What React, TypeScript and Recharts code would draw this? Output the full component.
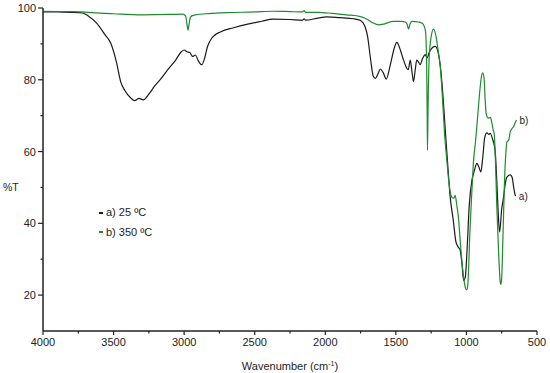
import { LineChart, Line, XAxis, YAxis } from "recharts";

// a) 25 ºC
const roomWavenumbers = [
  4000, 3900, 3800, 3720, 3680, 3620, 3560, 3520, 3480, 3450, 3420, 3380, 3350, 3320, 3290, 3250, 3210, 3160,
  3120, 3060, 3020, 3000, 2980, 2960, 2940, 2920, 2900, 2875, 2855, 2835, 2800, 2740, 2650, 2550, 2450, 2370,
  2250, 2160, 2150, 2140, 2050, 1990, 1900, 1800, 1750, 1720, 1700, 1680, 1660, 1645, 1625, 1610, 1590, 1568,
  1540, 1510, 1493, 1470, 1450, 1434, 1412, 1398, 1385, 1375, 1362, 1352, 1340, 1328, 1310, 1292, 1278, 1265,
  1240, 1221, 1200, 1180, 1160, 1150, 1130, 1115, 1093, 1075, 1060, 1044, 1030, 1020, 1008, 995, 980, 961, 945,
  926, 910, 898, 885, 870, 855, 840, 832, 815, 797, 785, 775, 765, 750, 737, 725, 713, 690, 677, 665, 654, 650,
];
const roomTransmittance = [
  98.9, 98.9, 98.8, 98.6, 97.8, 95.8, 92.5, 90.2, 85, 79.5, 77, 75, 74.2, 74.8, 74.4, 76, 78.2, 80.5,
  82.6, 85.5, 87.8, 88.3, 87.8, 87.6, 86.5, 86.9, 85.3, 84.2, 86, 89.2, 91.8, 93.4, 94.5, 95.5, 96.3, 96.9,
  96.8, 96.6, 97, 96.6, 97.2, 97.5, 97.3, 97, 96.5, 95, 92, 86, 81, 80.4, 81.8, 83, 82, 80.2,
  84, 89, 90.4, 88.5, 86, 84.2, 82.8, 85.5, 82, 79.5, 83, 85.5, 85, 84.2, 86, 87, 86.1, 87.5,
  89, 89.3, 87.5, 82, 72, 66, 55, 47.3, 40.8, 35, 33.5, 32.5, 28, 24.1, 25, 33, 45, 52, 54.5,
  56.7, 55.5, 54.3, 58, 64, 65.2, 64.8, 65.1, 63.5, 60.4, 52, 43, 37.6, 44, 47.3, 51, 52.9, 53.5, 52.9, 50, 47.8, 47.6,
];

// b) 350 ºC
const heatedWavenumbers = [
  4000, 3800, 3720, 3650, 3500, 3300, 3100, 3010, 2990, 2980, 2973, 2965, 2955, 2930, 2850, 2700, 2500, 2370,
  2250, 2160, 2150, 2140, 2050, 1950, 1850, 1750, 1700, 1660, 1620, 1580, 1517, 1460, 1434, 1420, 1410, 1400,
  1385, 1340, 1316, 1300, 1290, 1282, 1278, 1276, 1272, 1265, 1250, 1233, 1215, 1200, 1185, 1170, 1155, 1139,
  1120, 1104, 1090, 1080, 1068, 1057, 1040, 1020, 1005, 998, 990, 975, 960, 951, 935, 920, 905, 895, 885, 875,
  868, 860, 850, 840, 830, 820, 810, 803, 795, 785, 770, 760, 756, 750, 740, 730, 720, 713, 700, 690, 675, 666, 655, 645,
];
const heatedTransmittance = [
  99.1, 99, 98.9, 98.7, 98.4, 98.1, 98.2, 98.3, 97.8, 95.5, 93.8, 95.5, 97.5, 98, 98.4, 98.7, 98.9, 99.1,
  99, 98.9, 99.3, 98.8, 98.8, 98.5, 98.1, 97.6, 96.8, 95.8, 95.3, 95.6, 96.3, 96.3, 96.1, 95.5, 94.1, 95.5,
  96.3, 96.1, 95.8, 95, 93.5, 85, 70, 60.4, 72, 85, 92, 94.1, 92, 88, 83.7, 75, 65, 57.6,
  50, 47.3, 47, 47.8, 45, 41.8, 33, 25, 21.8, 21.5, 23, 38, 50, 56.7, 63, 70, 77, 80.5, 81.9, 80.5,
  75, 70.5, 69.5, 69.3, 69.5, 68, 66, 65, 58, 45, 30, 23.5, 23, 25, 38, 52, 60, 62.7, 63.2, 65.5, 66.5, 66.9, 68, 68.8,
];

const xTicks = [4000, 3750, 3500, 3250, 3000, 2750, 2500, 2250, 2000, 1750, 1500, 1250, 1000, 750, 500];
const yTicks = [20, 30, 40, 50, 60, 70, 80, 90, 100];

const seriesNames = ["a) 25 ºC", "b) 350 ºC"];
const endLabels = ["a)", "b)"];
const colors = ["#1a1a1a", "#1f8a2f"];

const roomData = roomWavenumbers.map((w, i) => ({ w, t: roomTransmittance[i] }));
const heatedData = heatedWavenumbers.map((w, i) => ({ w, t: heatedTransmittance[i] }));

const FONT = "'Liberation Sans', Arial, sans-serif";
const AXIS = "#222";

function XTick(props: any) {
  const { x, y, payload } = props;
  const major = payload.value % 500 === 0;
  return (
    <g>
      <line x1={x} x2={x} y1={y} y2={y + (major ? 4 : 2.5)} stroke={AXIS} strokeWidth={1.2} />
      {major && (
        <text x={x} y={y + 15} textAnchor="middle" fontSize={11} fontFamily={FONT} fill="#222">
          {payload.value}
        </text>
      )}
    </g>
  );
}

function YTick(props: any) {
  const { x, y, payload } = props;
  const major = payload.value % 20 === 0;
  return (
    <g>
      <line x1={x - (major ? 5 : 2.5)} x2={x} y1={y} y2={y} stroke={AXIS} strokeWidth={1.2} />
      {major && (
        <text x={x - 7} y={y + 4} textAnchor="end" fontSize={11} fontFamily={FONT} fill="#222">
          {payload.value}
        </text>
      )}
    </g>
  );
}

function endLabel(text: string, count: number) {
  return (props: any) => {
    const { x, y, index } = props;
    if (index !== count - 1) return null;
    return (
      <text key="end" x={x + 3} y={y + 4} fontSize={10} fontFamily={FONT} fill="#222">
        {text}
      </text>
    );
  };
}

function LegendBox() {
  return (
    <div
      style={{
        position: "absolute",
        left: 99,
        top: 203,
        fontFamily: FONT,
        fontSize: 11,
        color: "#222",
        lineHeight: "19.5px",
      }}
    >
      {seriesNames.map((name, i) => (
        <div key={name} style={{ display: "flex", alignItems: "center" }}>
          <span style={{ display: "inline-block", width: 4, height: 1.6, background: colors[i], marginRight: 3 }} />
          {name}
        </div>
      ))}
    </div>
  );
}

export default function App() {
  return (
    <div style={{ position: "absolute", left: 0, top: 0, width: 550, height: 373, background: "#fff" }}>
      <LineChart width={550} height={373} margin={{ top: 8, right: 13, bottom: 12, left: 0 }}>
        <XAxis
          type="number"
          dataKey="w"
          domain={[500, 4000]}
          reversed
          allowDataOverflow
          ticks={xTicks}
          interval={0}
          height={30}
          tickSize={0}
          tickMargin={0}
          tickLine={false}
          tick={<XTick />}
          axisLine={{ stroke: AXIS, strokeWidth: 1.5 }}
          label={{
            content: (p: any) => {
              const vb = p.viewBox;
              return (
                <text x={vb.x + vb.width / 2} y={vb.y + 38.5} textAnchor="middle" fontSize={11} fontFamily={FONT} fill="#222">
                  Wavenumber (cm
                  <tspan dy={-4} fontSize={7}>-1</tspan>
                  <tspan dy={4}>)</tspan>
                </text>
              );
            },
          }}
        />
        <YAxis
          type="number"
          dataKey="t"
          domain={[10, 100]}
          allowDataOverflow
          ticks={yTicks}
          interval={0}
          width={43}
          tickSize={0}
          tickMargin={0}
          tickLine={false}
          tick={<YTick />}
          axisLine={{ stroke: AXIS, strokeWidth: 1.5 }}
          label={{
            content: (p: any) => {
              const vb = p.viewBox;
              return (
                <text x={3} y={vb.y + (vb.height * 50) / 90 + 4} fontSize={10.5} fontFamily={FONT} fill="#222">
                  %T
                </text>
              );
            },
          }}
        />
        <Line
          data={roomData}
          dataKey="t"
          name={seriesNames[0]}
          type="monotone"
          stroke={colors[0]}
          strokeWidth={1.2}
          dot={false}
          isAnimationActive={false}
          label={endLabel(endLabels[0], roomData.length)}
        />
        <Line
          data={heatedData}
          dataKey="t"
          name={seriesNames[1]}
          type="monotone"
          stroke={colors[1]}
          strokeWidth={1.2}
          dot={false}
          isAnimationActive={false}
          label={endLabel(endLabels[1], heatedData.length)}
        />
      </LineChart>
      <LegendBox />
    </div>
  );
}
